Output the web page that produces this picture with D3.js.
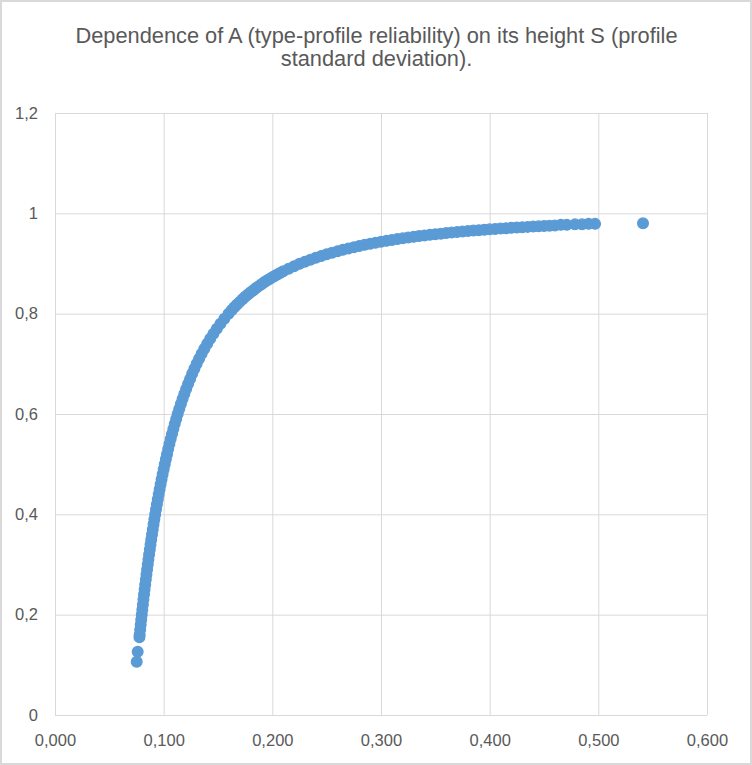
<!DOCTYPE html>
<html>
<head>
<meta charset="utf-8">
<script src="https://cdn.jsdelivr.net/npm/d3@7"></script>
<style>
  html, body { margin: 0; padding: 0; background: #fff; }
  svg { display: block; font-family: "Liberation Sans", Arial, sans-serif; }
</style>
</head>
<body>
<div id="chart"></div>
<script>
// values: S (profile standard deviation) and A (reliability)
const lowS = [0.0752, 0.0761];
const lowA = [0.106, 0.126];

// steep part of the curve
const steepS = [0.07769, 0.07792, 0.07839, 0.07886, 0.07935, 0.07984, 0.08035, 0.08086, 0.08138, 0.08192,
    0.08246, 0.08302, 0.08358, 0.08416, 0.08475, 0.08536, 0.08597, 0.08660, 0.08725, 0.08790,
    0.08858, 0.08927, 0.08997, 0.09070, 0.09144, 0.09220, 0.09297, 0.09377, 0.09459, 0.09543,
    0.09630, 0.09718, 0.09809, 0.09903, 0.10000, 0.10100, 0.10202, 0.10308, 0.10417, 0.10529,
    0.10646, 0.10766, 0.10891, 0.11019, 0.11153, 0.11292, 0.11435, 0.11585, 0.11740, 0.11902,
    0.12071, 0.12247, 0.12432, 0.12624, 0.12826, 0.13038, 0.13261, 0.13496, 0.13744, 0.14006,
    0.14283, 0.14577, 0.14891, 0.15226, 0.15584, 0.15969];
const steepA = [0.155, 0.16, 0.17, 0.18, 0.19, 0.20, 0.21, 0.22, 0.23, 0.24,
    0.25, 0.26, 0.27, 0.28, 0.29, 0.30, 0.31, 0.32, 0.33, 0.34,
    0.35, 0.36, 0.37, 0.38, 0.39, 0.40, 0.41, 0.42, 0.43, 0.44,
    0.45, 0.46, 0.47, 0.48, 0.49, 0.50, 0.51, 0.52, 0.53, 0.54,
    0.55, 0.56, 0.57, 0.58, 0.59, 0.60, 0.61, 0.62, 0.63, 0.64,
    0.65, 0.66, 0.67, 0.68, 0.69, 0.70, 0.71, 0.72, 0.73, 0.74,
    0.75, 0.76, 0.77, 0.78, 0.79, 0.80];

// bend and flat part
const flatS = [0.1625, 0.165, 0.1675, 0.170, 0.1725, 0.175, 0.1775, 0.180, 0.1825, 0.185,
    0.1875, 0.190, 0.1925, 0.195, 0.1975, 0.200, 0.2025, 0.205, 0.2075, 0.210,
    0.215, 0.220, 0.225, 0.230, 0.235, 0.240, 0.245, 0.250, 0.255, 0.260,
    0.265, 0.270, 0.275, 0.280, 0.285, 0.290, 0.295, 0.300, 0.305, 0.310,
    0.315, 0.320, 0.325, 0.330, 0.335, 0.340, 0.345, 0.350, 0.355, 0.360,
    0.365, 0.370, 0.375, 0.380, 0.385, 0.390, 0.395, 0.400, 0.405, 0.410,
    0.415, 0.420, 0.425, 0.430, 0.435, 0.440, 0.445, 0.450, 0.455, 0.460];
const flatA = [0.8069, 0.8127, 0.8182, 0.8235, 0.8286, 0.8335, 0.8381, 0.8426, 0.8469, 0.8510,
    0.8549, 0.8587, 0.8624, 0.8659, 0.8693, 0.8725, 0.8756, 0.8786, 0.8815, 0.8844,
    0.8897, 0.8946, 0.8993, 0.9036, 0.9077, 0.9115, 0.9150, 0.9184, 0.9216, 0.9246,
    0.9274, 0.9300, 0.9326, 0.9349, 0.9372, 0.9394, 0.9414, 0.9433, 0.9452, 0.9469,
    0.9486, 0.9502, 0.9517, 0.9532, 0.9546, 0.9559, 0.9572, 0.9584, 0.9595, 0.9606,
    0.9617, 0.9627, 0.9637, 0.9647, 0.9656, 0.9665, 0.9673, 0.9681, 0.9689, 0.9697,
    0.9704, 0.9711, 0.9718, 0.9724, 0.9730, 0.9737, 0.9742, 0.9748, 0.9754, 0.9759];

// separate points at the right end
const tailS = [0.4655, 0.4710, 0.4785, 0.4850, 0.4910, 0.4970, 0.5411];
const tailA = [0.977, 0.977, 0.978, 0.978, 0.979, 0.979, 0.980];

const xTicks = [0, 0.1, 0.2, 0.3, 0.4, 0.5, 0.6];
const xTickLabels = ["0,000", "0,100", "0,200", "0,300", "0,400", "0,500", "0,600"];
const yTicks = [0, 0.2, 0.4, 0.6, 0.8, 1, 1.2];
const yTickLabels = ["0", "0,2", "0,4", "0,6", "0,8", "1", "1,2"];

const titleLines = ["Dependence of A (type-profile reliability) on its height S (profile",
    "standard deviation)."];

const width = 752, height = 765;
const plot = {left: 55, right: 707, top: 113, bottom: 715};
const textColor = "#595959";
const gridColor = "#d9d9d9";
const dotColor = "#5b9bd5";

const svg = d3.select("#chart").append("svg")
    .attr("width", width)
    .attr("height", height);

// chart background + border
svg.append("rect")
    .attr("x", 1).attr("y", 1)
    .attr("width", width - 2).attr("height", height - 2)
    .attr("fill", "#fff")
    .attr("stroke", gridColor)
    .attr("stroke-width", 2);

// title
svg.append("g").selectAll("text")
    .data(titleLines)
    .enter()
    .append("text")
    .attr("x", 376.5)
    .attr("y", (d, i) => 43 + i * 23)
    .attr("text-anchor", "middle")
    .attr("font-size", 21.8)
    .attr("fill", textColor)
    .text(d => d);

const x = d3.scaleLinear().domain([0, 0.6]).range([plot.left, plot.right]);
const y = d3.scaleLinear().domain([0, 1.2]).range([plot.bottom, plot.top]);

// x axis: gridlines + labels
const gx = svg.append("g")
    .attr("transform", `translate(0,${plot.bottom})`)
    .call(d3.axisBottom(x)
        .tickValues(xTicks)
        .tickFormat((d, i) => xTickLabels[i])
        .tickSize(-(plot.bottom - plot.top))
        .tickPadding(19));

// y axis: gridlines + labels
const gy = svg.append("g")
    .attr("transform", `translate(${plot.left},0)`)
    .call(d3.axisLeft(y)
        .tickValues(yTicks)
        .tickFormat((d, i) => yTickLabels[i])
        .tickSize(-(plot.right - plot.left))
        .tickPadding(17));

[gx, gy].forEach(g => {
    g.select(".domain").remove();
    g.selectAll(".tick line").attr("stroke", gridColor).attr("stroke-width", 1);
    g.selectAll(".tick text")
        .attr("fill", textColor)
        .attr("font-size", 16.5)
        .attr("font-family", "Liberation Sans, Arial, sans-serif");
});

// points
const points = [];
[[lowS, lowA], [steepS, steepA], [flatS, flatA], [tailS, tailA]].forEach(([s, a]) => {
    s.forEach((v, i) => points.push({s: v, a: a[i]}));
});

svg.append("g").selectAll("circle")
    .data(points)
    .enter()
    .append("circle")
    .attr("cx", d => x(d.s))
    .attr("cy", d => y(d.a))
    .attr("r", 5.4)
    .attr("fill", dotColor)
    .attr("stroke", dotColor)
    .attr("stroke-width", 1.2);
</script>
</body>
</html>
